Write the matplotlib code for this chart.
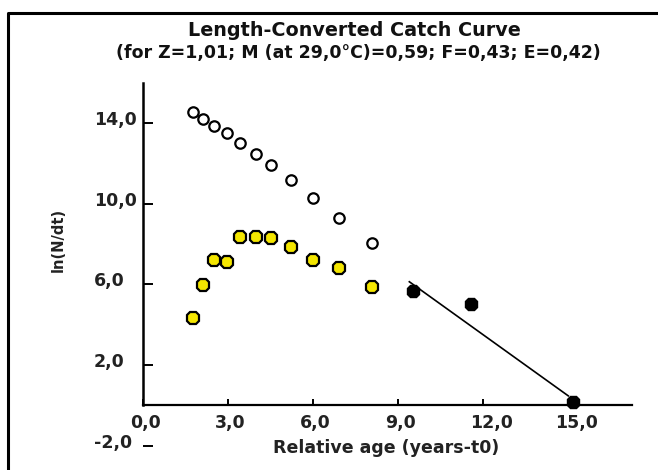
from __future__ import annotations

import matplotlib

matplotlib.use("Agg")
import matplotlib.pyplot as plt
from matplotlib.lines import Line2D
from matplotlib.transforms import ScaledTranslation

# relative age (years - t0) of each length class
ages_young = [1.78, 2.13, 2.50, 2.96, 3.45, 4.00, 4.54, 5.23, 6.02, 6.94, 8.08]
# ln(N/dt) observed for the small (not fully recruited) classes
observed_young = [4.35, 5.97, 7.20, 7.10, 8.37, 8.37, 8.32, 7.88, 7.20, 6.80, 5.89]
# ln(N/dt) back-extrapolated from the regression for the same classes
expected_young = [14.55, 14.20, 13.88, 13.51, 13.01, 12.48, 11.92, 11.19, 10.31, 9.31, 8.04]

# points used in the regression
ages_fit = [9.55, 11.58, 15.20]
observed_fit = [5.68, 5.03, 0.18]

# regression line: ln(N/dt) = a - Z * t
Z = 1.01
intercept = 15.64
line_ages = [9.41, 15.02]

title = "Length-Converted Catch Curve"
subtitle = "(for Z=1,01; M (at 29,0\u00b0C)=0,59; F=0,43; E=0,42)"
x_ticks = [0.0, 3.0, 6.0, 9.0, 12.0, 15.0]
y_ticks = [-2.0, 2.0, 6.0, 10.0, 14.0]


def fmt(v: float) -> str:
    return f"{v:.1f}".replace(".", ",")


def main() -> None:
    plt.rcParams["font.family"] = "DejaVu Sans"
    fig = plt.figure(figsize=(6.58, 4.70), dpi=100)
    ax = fig.add_axes([0.2169, 0.0519, 0.7432, 0.7713])

    ax.plot(ages_young, expected_young, "o", ms=7.5, mfc="white", mec="black", mew=1.6)
    ax.plot(ages_young, observed_young, "8", ms=9.5, mfc="#f4e600", mec="black", mew=1.6)
    ax.plot(ages_fit, observed_fit, "8", ms=9.5, mfc="black", mec="black")
    line_vals = [intercept - Z * t for t in line_ages]
    ax.plot(line_ages, line_vals, color="black", lw=1.2)

    ax.set_xlim(0, 17.26)
    ax.set_ylim(-2, 16)
    for side in ("top", "right"):
        ax.spines[side].set_visible(False)
    ax.spines["bottom"].set_position(("data", 0))
    ax.spines["left"].set_bounds(0, 16)
    ax.spines["left"].set_linewidth(1.8)
    ax.spines["bottom"].set_linewidth(1.6)

    ax.set_xticks(x_ticks)
    ax.set_xticklabels([fmt(v) for v in x_ticks])
    ax.set_yticks(y_ticks)
    ax.set_yticklabels([fmt(v) for v in y_ticks])
    ax.tick_params(axis="x", direction="in", length=4.5, width=1.4, pad=6.5,
                   labelsize=12.5)
    ax.tick_params(axis="y", direction="in", length=7.5, width=1.4, pad=35,
                   labelsize=12.5)

    x_shift = ScaledTranslation(-0.13, 0, fig.dpi_scale_trans)
    for lbl in ax.get_xticklabels():
        lbl.set_fontweight("bold")
        lbl.set_color("#222222")
        lbl.set_horizontalalignment("left")
        lbl.set_transform(lbl.get_transform() + x_shift)
    y_shift = ScaledTranslation(0, 0.05, fig.dpi_scale_trans)
    for lbl in ax.get_yticklabels():
        lbl.set_fontweight("bold")
        lbl.set_color("#222222")
        lbl.set_horizontalalignment("left")
        lbl.set_transform(lbl.get_transform() + y_shift)

    ax.set_xlabel("Relative age (years-t0)", fontsize=12.5, fontweight="bold",
                  color="#222222")
    ax.xaxis.label.set_verticalalignment("center")
    ax.xaxis.set_label_coords(0.4975, -0.007)
    ax.set_ylabel("ln(N/dt)", fontsize=10.5, fontweight="bold", color="#222222")
    ax.yaxis.label.set_verticalalignment("center")
    ax.yaxis.set_label_coords(-0.173, 0.567)

    fig.text(0.538, 0.935, title, ha="center", va="center", fontsize=13.8,
             fontweight="bold", color="#111111")
    fig.text(0.545, 0.888, subtitle, ha="center", va="center", fontsize=12.5,
             fontweight="bold", color="#111111")

    # frame along the top and left edges of the picture
    fig.add_artist(Line2D([0.0122, 0.0122, 1.0], [0.0, 0.9723, 0.9723],
                          transform=fig.transFigure, color="black", lw=2.2))

    fig.savefig("out.png", dpi=100)
    plt.close(fig)


if __name__ == "__main__":
    main()
